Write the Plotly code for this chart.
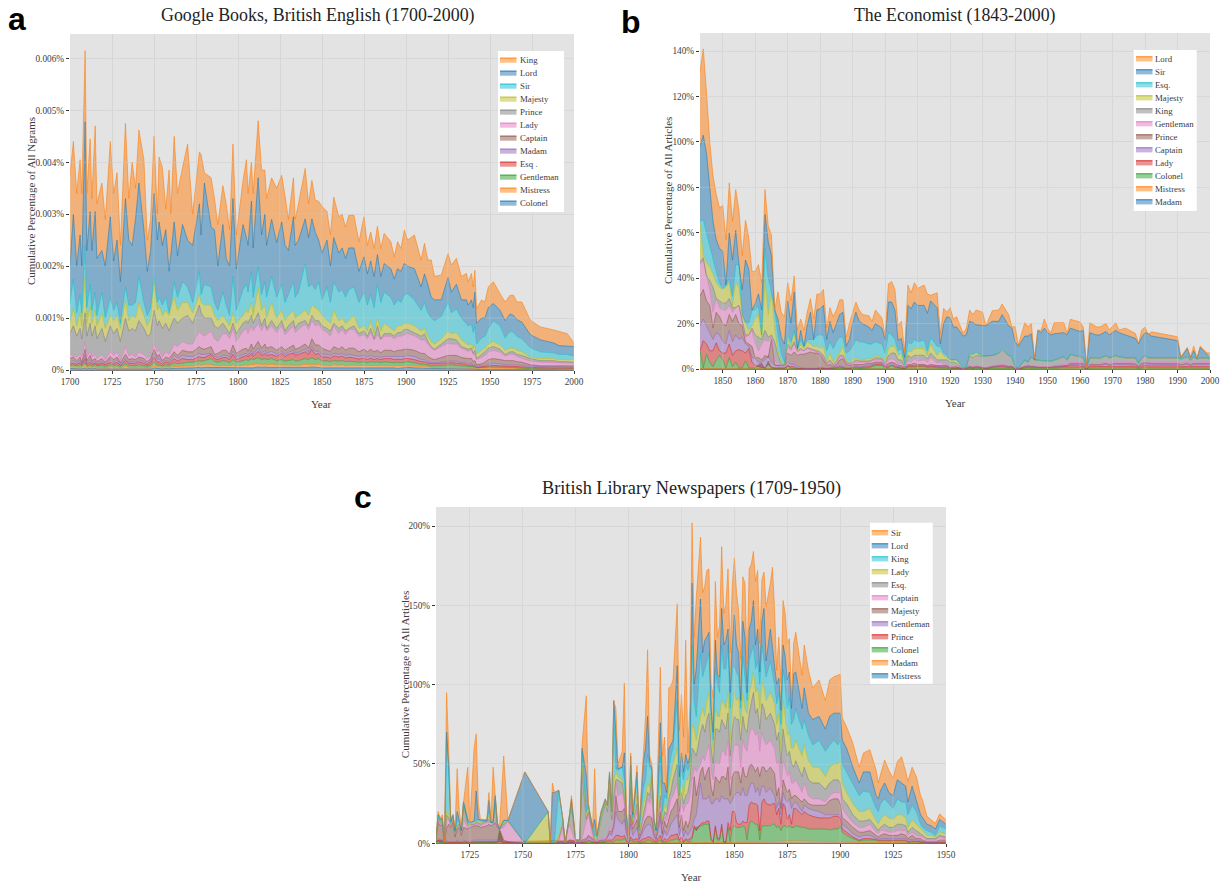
import plotly.graph_objects as go

W, H = 1228, 882

# ---------- Panel a: cumulative boundaries, in units of 0.00001 % ----------
A_YEARS = [1700,1702,1704,1706,1707,1709,1710,1712,1713,1715,
1716,1719,1721,1724,1726,1728,1730,1733,1735,1737,
1739,1741,1744,1746,1748,1750,1752,1753,1755,1757,
1759,1760,1762,1764,1767,1770,1773,1777,1778,1780,
1784,1786,1788,1791,1793,1795,1797,1799,1803,1805,
1806,1808,1809,1812,1814,1816,1817,1820,1823,1826,
1828,1830,1833,1834,1836,1840,1842,1844,1846,1848,
1850,1853,1855,1857,1860,1862,1864,1866,1869,1872,
1875,1877,1879,1881,1883,1885,1887,1891,1893,1895,
1897,1899,1901,1905,1909,1911,1913,1915,1917,1921,
1925,1927,1930,1933,1936,1937,1939,1940,1941,1942,
1945,1947,1949,1952,1956,1959,1962,1964,1966,1969,
1974,1980,1988,1991,1996,2000]
A_KING = [375,440,340,405,340,615,340,445,330,470,
320,360,290,440,340,380,240,475,330,400,
350,462,405,250,290,450,300,410,390,310,
385,300,450,340,390,435,300,420,415,380,
370,330,280,355,320,270,435,260,365,405,
340,400,340,480,385,385,330,370,350,375,
335,290,370,290,320,388,320,365,327,325,
315,305,260,333,295,300,275,298,298,247,
295,240,266,234,277,234,263,247,218,247,
234,269,250,260,212,244,212,212,180,183,
224,202,215,180,186,170,186,160,192,118,
135,131,160,170,147,131,144,144,131,131,
96,83,77,74,70,52]
A_LORD = [200,300,200,260,200,478,230,305,230,305,
215,230,200,295,210,250,170,330,250,240,
290,360,270,190,230,340,250,285,240,270,
190,220,285,220,280,250,240,320,260,360,
275,270,200,280,215,200,330,195,280,255,
240,325,235,370,260,300,240,290,245,285,
240,230,295,240,250,291,255,291,265,250,
225,250,200,255,225,235,215,235,235,190,
218,185,210,180,222,180,205,195,175,195,
190,205,200,195,160,185,165,140,135,135,
178,150,165,135,135,125,135,120,150,90,
100,100,120,128,115,95,108,105,97,92,
68,58,52,47,46,45]
A_SIR = [130,175,110,145,110,240,120,165,115,150,
105,150,100,140,115,130,90,160,125,125,
130,180,130,105,120,180,130,140,125,140,
110,125,170,140,170,160,130,190,145,165,
160,130,115,150,125,105,180,115,155,165,
150,190,140,200,145,170,140,180,140,165,
130,145,170,140,150,205,160,165,155,170,
135,160,130,170,150,155,140,155,160,130,
150,125,145,120,165,130,150,140,125,135,
130,145,147,135,115,130,110,100,95,103,
131,110,118,100,90,85,88,72,85,50,
62,65,80,95,85,62,75,72,65,60,
43,35,33,30,30,27]
A_MAJESTY = [90,120,85,110,85,180,90,125,90,115,
85,110,80,105,95,105,80,135,95,105,
100,130,105,85,100,170,115,125,105,115,
105,120,140,115,130,130,110,145,130,125,
125,105,95,105,95,85,110,90,105,115,
110,130,105,160,115,125,100,130,100,115,
95,105,115,100,105,115,105,125,120,115,
105,95,90,115,95,100,90,95,105,80,
85,75,95,70,100,75,90,80,75,85,
85,90,90,85,75,80,65,55,50,60,
75,70,72,58,50,48,50,40,48,30,
38,42,50,55,48,38,42,42,38,35,
25,22,22,20,20,20]
A_PRINCE = [70,85,65,80,60,110,65,90,65,85,
60,80,55,85,70,80,55,100,75,80,
75,95,80,65,70,115,85,95,80,90,
75,85,100,90,100,105,90,125,110,100,
100,85,80,90,80,70,90,70,90,95,
90,105,90,110,85,100,80,95,80,95,
75,85,95,80,90,95,85,105,95,95,
85,80,75,90,80,85,75,80,85,70,
75,65,80,60,85,60,70,70,65,72,
72,78,78,72,65,70,55,45,40,50,
60,60,58,45,42,40,42,32,38,22,
30,35,42,45,40,30,35,35,30,28,
22,18,18,16,16,15]
A_LADY = [30,28,25,30,25,55,25,35,25,30,
22,30,20,35,28,35,18,45,28,30,
25,35,30,22,28,50,35,40,25,35,
30,35,50,45,55,50,50,75,70,65,
75,60,55,70,70,60,80,55,75,80,
70,85,75,90,75,88,75,85,72,85,
68,75,85,72,78,88,78,95,85,88,
78,72,65,85,70,78,68,78,78,65,
68,60,72,58,68,58,65,65,60,65,
65,68,70,66,58,58,50,42,38,45,
52,50,50,42,38,36,38,30,30,20,
24,28,34,38,34,27,30,30,26,23,
17,15,14,13,13,13]
A_CAPTAIN = [22,25,18,25,15,40,18,28,18,22,
16,22,15,26,20,25,14,30,20,22,
20,25,22,16,22,40,26,30,18,25,
22,26,35,28,38,35,35,45,42,40,
45,30,32,38,38,30,48,32,40,42,
36,50,40,55,42,50,42,45,38,45,
38,42,48,40,42,50,42,60,48,48,
42,38,36,45,40,45,38,42,42,35,
40,35,40,35,38,33,38,38,35,38,
38,40,40,38,32,32,26,22,20,24,
28,28,28,24,22,22,22,16,18,10,
12,15,20,22,20,18,18,18,16,15,
10,8,8,8,8,8]
A_MADAM = [15,18,14,18,12,28,14,20,14,16,
12,16,12,20,15,20,11,22,15,16,
15,20,16,12,16,32,20,22,14,18,
16,20,28,22,28,26,26,32,30,30,
32,26,24,28,28,24,36,25,30,32,
28,38,30,42,32,38,32,36,30,36,
30,34,38,32,34,40,34,45,36,36,
30,30,28,32,30,32,28,30,28,26,
28,25,28,25,26,24,26,26,25,26,
25,26,28,26,20,20,16,14,14,16,
17,17,17,14,14,12,13,10,10,7,
8,9,11,13,12,10,10,10,9,9,
7,6,6,6,5,5]
A_ESQ = [12,13,11,14,10,22,11,15,11,13,
10,13,10,15,12,15,9,18,13,13,
12,16,13,10,13,25,15,16,11,15,
13,16,22,17,22,20,20,26,24,24,
30,22,20,24,24,20,30,20,26,28,
25,32,26,36,28,32,28,30,26,32,
26,30,33,28,30,35,30,40,30,32,
25,25,23,27,25,27,23,25,23,21,
23,20,23,20,22,20,22,22,20,21,
20,22,22,20,16,16,13,12,12,13,
14,14,13,12,11,9,10,8,8,5,
6,7,8,9,8,7,7,7,7,6,
5,4,4,4,4,4]
A_GENTLEMAN = [9,10,8,10,8,14,8,10,8,10,
8,9,7,10,9,10,7,12,9,9,
8,10,9,7,9,15,10,10,8,10,
9,11,14,12,14,15,15,18,17,18,
22,17,15,18,17,14,20,15,18,20,
18,22,20,24,20,22,20,22,18,20,
17,18,20,17,18,22,20,24,20,22,
17,18,16,18,17,18,16,17,16,15,
16,14,16,15,16,14,16,15,14,15,
14,15,16,14,11,11,9,8,8,9,
10,10,9,8,8,7,7,6,6,4,
4,5,6,6,6,5,5,5,4,4,
3,2,2,2,2,2]
A_MISTRESS = [6,6,5,6,5,9,5,6,5,6,
5,5,4,6,5,6,4,7,5,5,
5,6,5,4,5,8,6,6,5,6,
5,6,7,7,8,8,8,10,9,10,
10,9,8,9,9,8,10,8,9,10,
9,11,10,12,10,11,10,11,10,10,
9,9,10,9,9,11,10,11,10,11,
9,9,8,10,9,10,8,9,9,8,
9,8,9,8,9,8,9,8,8,8,
8,8,9,8,7,7,6,5,5,6,
6,6,6,5,5,4,4,4,4,3,
3,3,4,4,3,3,3,3,3,3,
2,1,1,1,1,1]
A_COLONEL = [3,3,3,3,2,4,2,3,2,3,
2,2,2,3,2,3,2,3,2,2,
2,3,2,2,2,4,3,3,2,3,
2,3,3,3,4,4,4,5,4,5,
5,4,4,4,4,4,5,4,4,5,
4,5,4,6,5,6,5,5,5,5,
4,4,5,4,4,5,5,6,5,5,
4,4,4,5,4,5,4,4,4,4,
4,4,4,4,4,4,4,4,4,3,
4,4,5,4,3,3,3,3,3,3,
3,3,3,2,2,2,2,2,2,1,
1,2,2,2,2,1,1,1,1,1,
1,1,1,0,0,0]

# ---------- Panel b: cumulative boundaries, in % ----------
B_YEARS = [1843,1844,1845,1846,1847,1848,1849,1850,1851,1852,
1853,1854,1855,1856,1857,1858,1859,1860,1861,1862,
1863,1864,1865,1866,1867,1868,1869,1870,1871,1872,
1873,1874,1875,1876,1877,1878,1879,1880,1881,1882,
1883,1884,1885,1886,1887,1888,1889,1890,1891,1892,
1893,1895,1896,1897,1899,1900,1901,1902,1903,1904,
1905,1906,1907,1908,1909,1910,1912,1913,1914,1916,
1917,1918,1919,1920,1921,1922,1924,1925,1926,1927,
1928,1930,1931,1933,1935,1936,1938,1939,1940,1941,
1943,1944,1945,1946,1947,1948,1949,1950,1951,1952,
1955,1956,1957,1960,1961,1962,1963,1965,1966,1968,
1969,1971,1972,1974,1977,1978,1979,1980,1981,1982,
1986,1990,1991,1993,1994,1995,1996,1997,1999,2000]
B_LORD = [131,141,122,100,85,77,71,72,57,82,
65,79,70,50,65.5,58,43,43,46,38,
79,63,59,26,34,25,23,38,30,41,
17,22,17,25,31,22,33,33,35,18,
27,23,26,30.5,30.5,14,20,25,29.5,26,
24,23.5,21,26,22.5,15,37.5,38.5,35,19,
21,8,37,33.5,38,35.5,37,33,32.5,33.6,
15.7,26.7,25,27,22,23,15.7,18,26,24,
26,25,19,25.7,26,28.6,24,18.6,18.6,10.6,
20.4,18.6,20,4.7,17.2,17,22,18,15.7,20.4,
20.4,15.7,21.9,20.7,18.5,1,20.4,18.6,18.5,20,
17.2,20.4,17.2,18,15.7,11.3,17.2,18.4,15.3,16.4,
15.3,14.2,5.4,9.5,5.4,10.1,4.7,10.1,7.2,7]
B_SIR = [98,103,95,80,65,57,53,52,37,60,
48,61,46,35,48,44,26,29,33,26,
68,56,50,26,22,14,11,30,20,34,
9,17,10,19,25,13,26,26.5,28,13,
21,16,20,24,25,10,13,20,25,21,
20,18.5,17,20,18,13,29.5,29.5,26,12.5,
13.5,5,28,26.5,29.5,28,28,24.5,30,27,
11,20,23,22.5,18.5,18.5,14.5,15,21,20.5,
19.5,19,19,21,21,24,19,18,12,10,
14.5,14.5,15.5,4,17,16,18,16,15,15.5,
16,15,18,16.5,17,1,16,15,15,16.5,
15,17,16,15,13.5,11,14,16,15.5,14.5,
13.5,12.5,5,9,5,8,4.7,9.5,6.5,5]
B_ESQ = [65,66,60,54,48,43,38,35.5,37,40,
32,46,46,24,20.5,20,26,26,28,15,
53,40,34,26,15,7,3,15,12,17,
9,13,10,13,13,13,15,15,15,8,
12,9,12,14,14,7,8,10,13,12,
12,11,11,12,11,7,16,15,13,8,
9,2,12,11,13,12,12.7,8,14,10,
10,7,6,4,4,4,0.5,1,7,6.5,
7.5,5.7,5.7,6,7,9,6,5.5,1,0.5,
4,3,5.5,4,4,3.8,3.6,3.5,3.5,4,
5.5,4,6.5,5.5,5,0.5,5,4.8,4.8,6,
5,6,5.5,5,5,2.5,5,6,5,5,
5,5,4.5,5.5,4,5.5,4.5,5,5,4.5]
B_MAJESTY = [64,50,47,45,42,38,36,35,36,38,
28,38,36,24,20,17,19,22,24,14,
40,24,34,18,8,3,2,13,10,16,
8,11,9,12,11,10,10,9,10,3,
7,3,5,7,10,4,3,4,5,4,
4,4.5,4.5,6,5,3,9,10,10,6,
7,1.5,8,7.5,9,9,9,6,11,6,
8,6,5,4,4,4,0.5,1,6.5,6,
7,5.7,5.7,6,7,8.5,6,5,1,0.5,
4,3,5.5,4,3.9,3.7,3.5,3.4,3.4,3.9,
5.4,3.9,6.4,5.4,4.9,0.5,4.9,4.7,4.7,5.9,
4.9,5.9,5.4,4.9,4.9,2.4,4.9,5.9,4.9,4.9,
4.9,4.9,4.4,5.4,3.9,5.4,4.4,4.9,4.9,4.4]
B_KING = [47,49,41,39,36,31,30,29,29,31,
27,27,28,22,15,15,18,15,14,13,
17,14,15,12,6,2,2,11,9,12,
8,9,8,9.5,9,8.5,8,7.5,6,2.5,
4,2,3.5,6,6,3,2.5,3,4,3.5,
3.5,3.5,4,5,4.5,2.5,6,7,7,4,
4,1,6,5,6,6,6,4.5,7,4,
4,4,4,3,3,2.5,0.3,0.8,6,5,
6,5.6,5.6,5.9,6.9,8.3,5.9,4.9,0.9,0.4,
3.9,2.9,5.4,3.9,3.8,3.6,3.4,3.3,3.3,3.8,
5.3,3.8,6.3,5.3,4.8,0.4,4.8,4.6,4.6,5.8,
4.8,5.8,5.3,4.8,4.8,2.3,4.8,5.8,4.8,4.8,
4.8,4.8,4.3,5.3,3.8,5.3,4.3,4.8,4.8,4.3]
B_GENTLEMAN = [46,48,41,35,25,31,27,26,26,28,
25,27,28,20,14,15,17,11,8,11,
13,12,14,4,2,1.5,1.5,10,8,11,
7.5,8.5,8,9,8.5,8,7.5,7,5,2,
3,1.5,3,5,5.5,2.5,2,2.5,3,3,
3,3,3.5,4,4,2,4,4.5,4,2,
2.5,0.7,3.5,3,4.5,3.5,4,3,5,2.5,
3,2,2,1,1,1.5,0.2,0.6,1.5,1,
1.5,1,0.6,1.5,2,2,1.5,1.5,0.5,0.3,
1.5,2,1.5,1.5,1,1,1,1,1,1.5,
2,2,3,3,3,0.3,2.5,2.5,2.5,3,
2.5,3,3,3,2.8,1.5,3,3.5,3,3,
3,3,2.5,3,2.5,3,2.8,3,3,3]
B_PRINCE = [32,35,30,28,18,25,23,20,19,24,
21,24,20,19,12,11,10,5,5,4,
6,5,13,2,1.5,1.5,1.5,7,6,7.5,
6,6.5,6.5,7,7.5,7,7,6.5,4,1.5,
2,1.2,2,4,4.5,2,1.5,2,2,2,
2,2.5,2.5,3,3,1.5,2.5,3,2.5,1.5,
1.5,0.5,2,2,2.5,2,2,1.5,2,1.5,
1.5,1.2,1.5,0.8,0.8,1,0.15,0.5,1.2,0.8,
1.2,0.8,0.5,1.2,1.5,1.7,1.2,1.2,0.4,0.25,
1.2,1.5,1.2,1.2,0.8,0.8,0.8,0.8,0.8,1.2,
1.6,1.6,2.5,2.5,2.5,0.25,2,2,2,2.5,
2,2.5,2.5,2.5,2.3,1.2,2.5,2.8,2.5,2.5,
2.5,2.5,2,2.5,2,2.5,2.3,2.5,2.5,2.5]
B_CAPTAIN = [19,22,19,16,13,16,15,12,11,17,
12,15,13,14,11,10,5,4.5,3,3,
4,6,3,1.5,1.5,1.5,1.5,3,2,2,
1,0.7,0.3,0.3,0.3,0.3,0.3,0.8,0.5,0.3,
0.5,0.5,1,1.5,1,0.5,0.5,1,1.5,1,
1,1.5,2,2.5,2.5,1,1.5,2.5,1.5,1,
1,0.3,1.5,1.5,1.8,1.5,1.7,1.2,1.5,1.2,
1.2,1,1.2,0.6,0.6,0.8,0.1,0.4,1,0.6,
1,0.6,0.4,1,1.2,1.4,1,1,0.3,0.2,
1,1.2,1,1,0.6,0.6,0.6,0.6,0.6,1,
1.4,1.4,2,2,2,0.2,1.6,1.6,1.6,2,
1.6,2,2,2,1.8,1,2,2.3,2,2,
2,2,1.6,2,1.6,2,1.8,2,2,2]
B_LADY = [8,12.5,11,8,8,11.5,8,7,7,11,
6,8,8.5,8,7,9,3,1.5,1,0.8,
0.5,2,0.8,0.5,0.5,0.5,0.5,1,1,1,
0.3,0.1,0.1,0.1,0.1,0.1,0.1,0.5,0.3,0.1,
0.3,0.3,0.6,1,0.6,0.3,0.3,0.8,1,0.7,
0.7,1,1.5,2,2,0.8,1,1.8,1,0.8,
0.7,0.2,1.2,1.2,1.5,1.2,1.4,1,1.2,1,
0.8,0.8,1,0.4,0.4,0.6,0.05,0.3,0.8,0.5,
0.8,0.5,0.3,0.8,1,1.2,0.8,0.8,0.2,0.1,
0.8,1,0.8,0.8,0.5,0.5,0.5,0.5,0.5,0.8,
1.1,1.1,1.5,1.3,1.3,0.1,1.1,1.1,1.1,1.4,
1.1,1.3,1.3,1.3,1.2,0.7,1.3,1.5,1.3,1.3,
1.4,1.4,1,1.2,1,1.2,1,1.2,1.2,1.2]
B_COLONEL = [8,0.5,6.5,3,1,4,6,4,0.5,5,
1,3,0.5,0.5,3.5,0.5,0.5,0.3,2,2.5,
0.1,3.5,0.5,0.1,0.1,0.1,0.1,2,0.3,0.2,
0.1,0.05,0.05,0.05,0.05,0.05,0.05,0.3,0.1,0.05,
0.1,0.1,0.3,0.5,0.2,0.1,0.1,0.3,0.5,0.2,
0.2,0.5,1,1.5,1.5,0.3,0.6,1.5,0.7,0.4,
0.4,0.1,0.8,0.8,1,0.8,1,0.6,0.8,0.6,
0.5,0.5,0.6,0.2,0.2,0.3,0.02,0.1,0.4,0.2,
0.4,0.2,0.1,0.4,0.5,0.5,0.4,0.4,0.1,0.05,
0.4,0.6,0.4,0.4,0.2,0.2,0.2,0.2,0.2,0.4,
0.7,0.7,0.9,0.7,0.7,0.05,0.5,0.5,0.5,0.7,
0.5,0.7,0.7,0.7,0.6,0.3,0.7,0.8,0.6,0.6,
0.7,0.6,0.4,0.5,0.4,0.5,0.4,0.5,0.5,0.5]
B_TAIL_YEARS = [1843,1870,1900,1950,2000]
B_MISTRESS = [0.2,0.05,0.05,0.05,0.05]
B_MADAM = [0.1,0.02,0.02,0.02,0.02]

# ---------- Panel c: cumulative boundaries, in % ----------
C_YEARS = [1709,1710,1711,1712,1713,1714,1715,1716,1717,1718,
1719,1720,1721,1722,1724,1725,1727,1728,1729,1730,
1733,1734,1735,1736,1737,1738,1739,1741,1743,1751,
1762,1763,1764,1765,1767,1769,1770,1772,1773,1775,
1777,1778,1780,1781,1783,1784,1785,1787,1789,1790,
1791,1792,1793,1794,1795,1797,1798,1799,1800,1801,
1802,1804,1805,1807,1808,1809,1810,1811,1812,1813,
1815,1816,1817,1818,1819,1820,1821,1823,1824,1825,
1826,1827,1828,1829,1830,1831,1832,1834,1835,1836,
1837,1838,1839,1840,1841,1842,1843,1844,1845,1846,
1847,1848,1849,1850,1851,1852,1853,1854,1855,1856,
1857,1858,1859,1860,1861,1862,1863,1864,1865,1867,
1868,1869,1870,1871,1872,1873,1874,1875,1876,1877,
1878,1879,1882,1883,1885,1887,1890,1893,1895,1897,
1899,1900,1901,1903,1906,1909,1911,1914,1917,1918,
1919,1921,1923,1925,1927,1929,1931,1932,1934,1936,
1938,1939,1941,1943,1945,1947,1950]
C_SIR = [3,20,16,18,0,95,60,15,18,10,
47,20,10,26,48,13,60,69,25,15,
15,32,15,48,30,13,10,55,14.5,45,
20,0,38,32,33.5,15,0,17,30,2,
2,62,93,25,10,47,5,20,28,24,
45,20,90,85,50,58,101,20,5,57,
20,49,10,60,80,122,55,50,15,10,
111,55,67,34,98,99,103,151,71,94,
67,128,57,88,202,130,155,193,158,162,
172,173,101,92,165,130,137,187,145,151,
173,120,162,180,158,147,116,168,164,113,
173,176,184,165,172,126,166,171,149,164,
174,147,109,130,101,153,145,126,129,92,
126,133,106,125,109,98,103,90,103,105,
106,106.5,79,73.5,63,48,57,59,46,38,
43,52.5,46,41,51.5,54.6,45,39,48,42,
30,27,17,14.7,12.6,18.5,14.7]
C_LORD = [3,18,15,16,0,70,50,14,18,8,
20,13,8,26,15,13,14,33,15,15,
14,27,13,14,30,13,9,14.5,14.5,45,
20,0,32,32,33.5,15,0,17,28,2,
2,60,43,24,10,15,5,20,28,24,
45,20,90,70,47,48,57,18,5,55,
18,45,10,52,60,80,50,48,15,8,
76,38,38,32,60,62,65,112,42,57,
45,56,50,55,164,100,110,154,120,128,
130,133,85,70,128,106,105,148,125,128,
135,95,125,144,125,120,90,140,130,95,
135,140,153,125,135,108,140,148,115,135,
123,108,100,104,84,125,118,103,108,85,
107,108,85,98,82,78,80,72,80,82,
82,82,65,60,48,38,45,45,30,28,
33,38,32,30,40,38,36,26,36,27,
18,16,12,11,9,15,12]
C_KING = [3,18,14,15,0,70,45,13,17,7,
15,13,8,26,13,13,14,14,15,14,
14,20,13,13,29,12,9,14,14.5,0,
20,0,2,2,33,14,0,16,26,2,
2,58,20,24,9,5,4,18,27,24,
44,20,85,47,46,48,40,16,5,50,
16,40,8,35,40,56,48,46,14,8,
55,20,30,28,45,55,60,90,30,46,
40,50,46,50,125,90,80,120,105,110,
115,120,80,65,110,100,95,125,110,110,
125,85,110,112,108,105,85,118,105,90,
115,120,125,110,115,100,125,115,105,115,
108,100,88,95,75,110,100,85,92,75,
78,85,72,78,68,62,65,58,62,65,
62,65,50,45,38,30,33,32,22,20,
25,28,25,22,28,26,26,18,24,20,
12,10,8,7,5,11,9]
C_LADY = [2,15,13,14,0,20,18,12,16,6,
12,12,7,25,12,12,13,13,14,13,
14,17,13,13,28,12,9,13,14,0,
20,0,0,0,5,14,0,15,24,2,
2,50,18,22,8,3,3,16,26,22,
40,18,40,45,42,40,35,14,4,45,
14,30,6,25,30,38,35,44,12,6,
40,15,24,22,35,42,50,60,24,38,
30,40,40,45,75,72,65,80,85,80,
90,95,70,58,85,80,80,90,88,85,
95,65,85,95,90,92,75,95,85,82,
95,100,108,95,98,85,102,98,90,95,
92,88,75,82,60,90,80,68,70,60,
60,65,55,62,52,48,48,42,48,50,
50,52,38,32,25,20,20,22,14,12,
15,18,16,15,18,18,16,10,15,12,
9,8,5,5,4,7,6]
C_ESQ = [2,15,13,14,0,18,16,12,15,5,
11,12,7,24,12,12,12,13,13,12,
14,15,13,13,25,11,9,12,14,0,
0,0,0,0,3,13,0,15,23,2,
2,45,15,20,7,2,2,15,25,20,
35,15,30,40,40,38,30,12,3,35,
12,25,5,20,25,32,30,42,10,5,
30,12,20,18,28,33,40,50,20,32,
25,30,32,40,60,58,55,70,75,70,
78,82,60,50,72,72,70,78,75,72,
82,55,72,80,78,78,65,80,72,70,
82,88,95,82,85,72,88,85,78,82,
78,75,65,70,50,72,62,55,58,50,
48,52,42,48,40,38,38,34,38,40,
40,38,28,25,18,14,14,15,10,8,
10,12,10,10,12,12,11,7,10,8,
6,5,3,3,3,5,4]
C_CAPTAIN = [2,14,12,13,0,15,15,11,14,5,
10,11,6,15,10,11,12,12,12,11,
13,13,13,13,14,10,9,10,14,0,
0,0,0,0,2,10,0,12,8,1,
1,3,14,18,5,1,1,3,3,5,
10,8,18,38,30,32,25,10,2,25,
10,20,4,15,20,28,25,30,8,4,
25,10,16,14,22,28,30,38,16,25,
20,25,25,30,40,48,45,50,55,52,
58,62,45,40,52,50,50,58,58,55,
65,40,55,62,62,62,48,65,60,58,
68,72,72,68,70,58,70,65,62,65,
62,60,50,52,35,52,48,42,45,38,
38,40,32,38,30,28,28,26,30,32,
32,32,22,18,13,10,10,12,7,6,
8,8,7,7,8,8,8,5,7,5,
4,4,2,2,2,4,3]
C_MAJESTY = [2,13,11,12,0,10,12,10,13,4,
9,10,5,10,9,10,11,11,11,10,
11,12,11,12,13,10,9,2,1,0,
0,0,0,0,1,1,0,2,2,1,
1,2,3,5,3,1,1,2,2,4,
8,7,12,30,20,20,22,8,2,18,
9,15,3,12,15,17,17,16,6,3,
20,6,14,10,15,20,22,28,10,18,
8,14,10,15,25,42,30,45,48,40,
45,48,35,30,42,40,38,42,42,40,
48,30,42,45,45,45,38,48,42,42,
48,50,48,45,48,42,48,48,45,48,
46,44,30,35,22,40,36,32,34,28,
30,30,26,28,25,24,24,24,27,28,
28,25,16,14,10,7,7,8,5,4,
5,6,5,5,5,6,5,3,5,3,
3,2,1,1,1,2,2]
C_GENTLEMAN = [2,3,2,2,0,2,1,1,1,1,
2,1,1,2,1,1,2,2,2,2,
2,2,2,2,2,2,2,1,1,0,
0,0,0,0,0.5,0.5,0,1,1,0.5,
0.5,1,2,4,2,1,1,2,2,4,
6,5,10,20,15,12,15,6,1,12,
5,10,2,8,10,12,12,10,4,2,
15,3,8,5,8,12,14,18,5,10,
4,8,5,8,10,15,18,38,28,28,
28,30,25,25,28,28,26,30,28,28,
28,25,28,30,32,32,30,35,30,30,
35,38,38,32,35,30,36,36,32,35,
32,30,22,26,18,32,28,26,28,22,
25,26,20,24,22,21,20,18,18,18,
18,18,12,10,6,4,5,5,3,2.5,
3,3,3,3,3,3,3,2,2.5,2,
1.5,1,0.5,0.5,0.5,1,1]
C_PRINCE = [1,2,1.5,1.5,0,1,0.5,0.5,0.5,0.5,
1,0.5,0.5,1,0.5,0.5,1,1,1,1,
1,1,1,1,1,1,1,0.5,0.5,0,
0,0,0,0,0.2,0.2,0,0.5,0.5,0.3,
0.3,0.5,1,2,1,0.5,0.5,1,1,2,
2,2,3,5,5,4,5,2,0.5,4,
2,3,1,3,3,4,4,3,2,1,
5,1,3,2,3,5,5,6,2,4,
1,3,2,3,4,11,8,12,13,13,
14,14,3,1,11,3,3,12,1,1,
13,8,20,20,13,12,12,14,13,13,
24,26,25,25,24,8,26,28,25,24,
25,25,18,22,12,25,23,15,18,12,
22,22,18,20,18,17,16,16,16,17,
17,16,9,7,4,2,3,3,2,2,
2,2,2,2,2,2,2,1,1.5,1,
1,0.5,0.3,0.3,0.3,0.5,0.5]
C_COLONEL = [0.5,1,0.5,0.5,0,0.5,0.3,0.3,0.3,0.3,
0.5,0.3,0.3,0.5,0.3,0.3,0.5,0.5,0.5,0.5,
0.5,0.5,0.5,0.5,0.5,0.5,8,0.3,0.3,0,
0,0,0,0,0.1,0.1,0,0.3,0.3,0.2,
0.2,0.3,0.5,1,0.5,0.3,0.3,0.5,0.5,1,
1,1,1,2,2,2,3,1,0.3,2,
1,1,0.5,1,1,2,2,1,1,0.5,
2,0.5,1,1,1,2,2,3,1,1,
0.5,2,1,1,3,9,10,11,12,12,
12,12,2,0.5,10,2,2,10,0.5,0.5,
10,1,10,11,10,10,10,11,10,2,
12,14,13,12,12,2,11,11,11,11,
12,12,10,11,8,11,11,10,11,10,
10,11,10,10,9,9,9,9,8.5,9,
9,11,7,5,3,1.5,2,2,2,1.5,
1.5,1.5,1.5,1.5,1.5,1.5,1.5,0.5,1,1,
0.8,0.3,0.2,0.2,0.2,0.3,0.3]
C_TAIL_YEARS = [1709,1712,1713,1775,1777,1790,1850,1878,1900,1920,1950]
C_MADAM = [2,2,0.3,2,0.3,0.3,0.5,1.5,1,0.5,0.3]
C_MISTRESS = [0.2,0.2,0.1,0.1,0.1,0.1,0.2,0.3,0.2,0.1,0.1]

# ---------- Text ----------
A_TICK_YEARS = [1700,1725,1750,1775,1800,1825,1850,1875,1900,1925,1950,1975,2000]
B_TICK_YEARS = [1850,1860,1870,1880,1890,1900,1910,1920,1930,1940,1950,1960,1970,1980,1990,2000]
C_TICK_YEARS = [1725,1750,1775,1800,1825,1850,1875,1900,1925,1950]
A_Y_TICKS = [0,100,200,300,400,500,600]
A_Y_LABELS = ["0%","0.001%","0.002%","0.003%","0.004%","0.005%","0.006%"]
B_Y_TICKS = [0,20,40,60,80,100,120,140]
B_Y_LABELS = ["0%","20%","40%","60%","80%","100%","120%","140%"]
C_Y_TICKS = [0,50,100,150,200]
C_Y_LABELS = ["0%","50%","100%","150%","200%"]

COLORS = ["255,127,14","31,119,180","23,190,207","188,189,34","127,127,127","227,119,194",
          "140,86,75","148,103,189","214,39,40","44,160,44","255,127,14","31,119,180"]

A_ROWS = [("King",A_KING),("Lord",A_LORD),("Sir",A_SIR),("Majesty",A_MAJESTY),("Prince",A_PRINCE),
          ("Lady",A_LADY),("Captain",A_CAPTAIN),("Madam",A_MADAM),("Esq .",A_ESQ),
          ("Gentleman",A_GENTLEMAN),("Mistress",A_MISTRESS),("Colonel",A_COLONEL)]
B_ROWS = [("Lord",B_LORD),("Sir",B_SIR),("Esq.",B_ESQ),("Majesty",B_MAJESTY),("King",B_KING),
          ("Gentleman",B_GENTLEMAN),("Prince",B_PRINCE),("Captain",B_CAPTAIN),("Lady",B_LADY),
          ("Colonel",B_COLONEL),("Mistress",B_MISTRESS),("Madam",B_MADAM)]
C_ROWS = [("Sir",C_SIR),("Lord",C_LORD),("King",C_KING),("Lady",C_LADY),("Esq.",C_ESQ),
          ("Captain",C_CAPTAIN),("Majesty",C_MAJESTY),("Gentleman",C_GENTLEMAN),("Prince",C_PRINCE),
          ("Colonel",C_COLONEL),("Madam",C_MADAM),("Mistress",C_MISTRESS)]

SERIF = "Liberation Serif, Times New Roman, serif"
TXT = "#3c3c3c"
GRID = "#d4d4d4"
BG = "#e3e3e3"

def px(x): return x / W
def py(y): return 1 - y / H

fig = go.Figure()
shapes, notes = [], []

def note(x, y, text, size, color=TXT, family=SERIF, xanchor="center", angle=0):
    notes.append(dict(x=px(x), y=py(y), xref="paper", yref="paper", text=text, showarrow=False,
                      xanchor=xanchor, yanchor="middle", textangle=angle,
                      font=dict(family=family, size=size, color=color)))

def panel(idx, years, rows, tail_years, xticks, yticks, ylabels, yrange, xrange_, box, ytitle,
          title, title_xy, title_size, letter, letter_xy, leg_box, sw_x, txt_x, leg_y, yt_x, xt_xy):
    xa, ya = ("xaxis", "yaxis") if idx == 1 else (f"xaxis{idx}", f"yaxis{idx}")
    xr, yr = ("x", "y") if idx == 1 else (f"x{idx}", f"y{idx}")
    n = len(rows)
    for i in range(n - 1, -1, -1):           # bottom layer first
        name, vals = rows[i]
        xs = years if len(vals) == len(years) else tail_years
        assert len(xs) == len(vals), (name, len(xs), len(vals))
        fig.add_trace(go.Scatter(
            x=xs, y=vals, name=name, mode="lines", xaxis=xr, yaxis=yr, showlegend=False,
            line=dict(color=f"rgba({COLORS[i]},0.65)", width=0.9),
            fill="tozeroy" if i == n - 1 else "tonexty",
            fillcolor=f"rgba({COLORS[i]},0.5)"))
    l, r, t, b = box
    fig.layout[xa] = dict(domain=[px(l), px(r)], range=xrange_, anchor=yr, tickvals=xticks,
                          ticks="outside", ticklen=3, tickwidth=1, tickcolor="#333",
                          showgrid=True, gridcolor=GRID, gridwidth=1, zeroline=False,
                          showline=True, linecolor="rgba(70,70,70,0.7)", linewidth=1,
                          tickfont=dict(family=SERIF, size=9.3, color=TXT))
    fig.layout[ya] = dict(domain=[py(b), py(t)], range=yrange, anchor=xr, tickvals=yticks,
                          ticktext=ylabels, ticks="outside", ticklen=3, tickwidth=1, tickcolor="#333",
                          showgrid=True, gridcolor=GRID, gridwidth=1, zeroline=False,
                          showline=False, tickfont=dict(family=SERIF, size=9.3, color=TXT))
    # the grid shows faintly through the translucent areas, so a pale copy sits above them
    for v in xticks:
        shapes.append(dict(type="line", xref=xr, yref=f"{yr} domain", x0=v, x1=v, y0=0, y1=1,
                           line=dict(color="rgba(228,228,228,0.3)", width=1)))
    for v in yticks[1:]:
        shapes.append(dict(type="line", xref=f"{xr} domain", yref=yr, x0=0, x1=1, y0=v, y1=v,
                           line=dict(color="rgba(228,228,228,0.3)", width=1)))
    note(yt_x, (t + b) / 2 if idx != 1 else 201, ytitle, 11, angle=-90)
    note(xt_xy[0], xt_xy[1], "Year", 11)
    note(title_xy[0], title_xy[1], title, title_size, color="#222")
    note(letter_xy[0], letter_xy[1], f"<b>{letter}</b>", 32, color="#000",
         family="Liberation Sans, Arial, sans-serif")
    lx0, lx1, ly0, ly1 = leg_box
    shapes.append(dict(type="rect", xref="paper", yref="paper", x0=px(lx0), x1=px(lx1), y0=py(ly0), y1=py(ly1),
                       fillcolor="white", line=dict(width=0)))
    for i, (name, _) in enumerate(rows):
        yc = leg_y + 13 * i
        shapes.append(dict(type="rect", xref="paper", yref="paper", x0=px(sw_x), x1=px(sw_x + 16.5),
                           y0=py(yc - 2.2), y1=py(yc + 2.4), fillcolor=f"rgba({COLORS[i]},0.5)", line=dict(width=0)))
        shapes.append(dict(type="line", xref="paper", yref="paper", x0=px(sw_x), x1=px(sw_x + 16.5),
                           y0=py(yc - 2.2), y1=py(yc - 2.2), line=dict(color=f"rgb({COLORS[i]})", width=1)))
        note(txt_x - 2, yc, name, 8.8, xanchor="left")

panel(1, A_YEARS, A_ROWS, None, A_TICK_YEARS, A_Y_TICKS, A_Y_LABELS, [0, 647], [1700, 2000],
      (70, 574, 34, 370), "Cumulative Percentage of All Ngrams",
      "Google Books, British English (1700-2000)", (318, 16), 17.9, "a", (17, 19),
      (498, 564, 51, 212), 500, 519.7, 60.3, 31, (321, 404))
panel(2, B_YEARS, B_ROWS, B_TAIL_YEARS, B_TICK_YEARS, B_Y_TICKS, B_Y_LABELS, [0, 148], [1843, 2000],
      (700, 1210, 33, 369), "Cumulative Percentage of All Articles",
      "The Economist (1843-2000)", (955, 15), 17.8, "b", (631, 22),
      (1133.7, 1196.7, 50, 211), 1136, 1155, 59, 668, (955, 403))
panel(3, C_YEARS, C_ROWS, C_TAIL_YEARS, C_TICK_YEARS, C_Y_TICKS, C_Y_LABELS, [0, 212], [1709, 1950],
      (436, 946, 507, 843.3), "Cumulative Percentage of All Articles",
      "British Library Newspapers (1709-1950)", (691, 489), 18.3, "c", (363, 497),
      (870, 932.7, 522.7, 683.7), 871.7, 891.3, 533, 405, (691, 877))

fig.update_layout(width=W, height=H, autosize=False,
                  margin=dict(l=0, r=0, t=0, b=0, autoexpand=False),
                  paper_bgcolor="white", plot_bgcolor=BG, showlegend=False,
                  shapes=shapes, annotations=notes)

fig.write_html("out.html", config={"displayModeBar": False},
               post_script="document.body.style.margin='0';document.body.style.overflow='hidden';")
